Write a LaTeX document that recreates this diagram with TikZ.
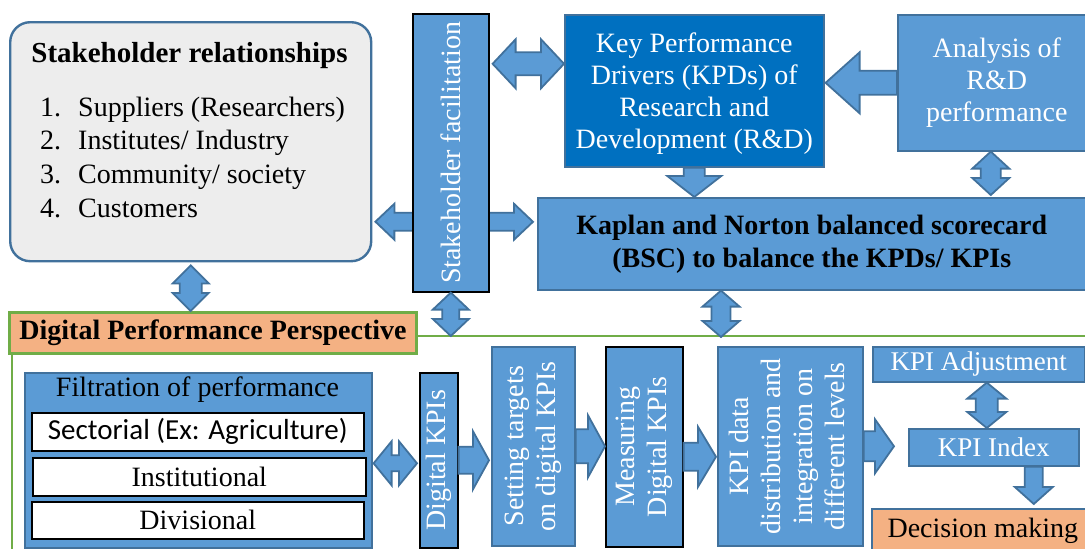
\documentclass[tikz,border=0pt]{standalone}
\usepackage{fontspec}
\setmainfont{Liberation Serif}
\newfontfamily\calibrifont{Carlito}
\usetikzlibrary{calc}
\definecolor{boxblue}{HTML}{5B9BD5}
\definecolor{boxline}{HTML}{41719C}
\definecolor{darkblue}{HTML}{0070C0}
\definecolor{lightgrey}{HTML}{EDEDED}
\definecolor{peach}{HTML}{F4B183}
\definecolor{leafgreen}{HTML}{70AD47}
\pgfdeclarelayer{back}
\pgfsetlayers{back,main}

% block arrows: #1 from, #2 to, #3 half shaft, #4 half head, #5 head length
\newcommand{\onearrow}[5]{%
  \coordinate (ta) at (#1);
  \coordinate (tb) at (#2);
  \coordinate (th) at ($(tb)!#5!(ta)$);
  \draw[arrowbody] ($(ta)!#3!90:(tb)$) -- ($(th)!#3!90:(tb)$) -- ($(th)!#4!90:(tb)$) -- (tb)
    -- ($(th)!#4!-90:(tb)$) -- ($(th)!#3!-90:(tb)$) -- ($(ta)!#3!-90:(tb)$) -- cycle;
}
\newcommand{\twoarrow}[5]{%
  \coordinate (ta) at (#1);
  \coordinate (tb) at (#2);
  \coordinate (tp) at ($(ta)!#5!(tb)$);
  \coordinate (tq) at ($(tb)!#5!(ta)$);
  \draw[arrowbody] (ta) -- ($(tp)!#4!90:(tb)$) -- ($(tp)!#3!90:(tb)$) -- ($(tq)!#3!90:(tb)$)
    -- ($(tq)!#4!90:(tb)$) -- (tb) -- ($(tq)!#4!-90:(tb)$) -- ($(tq)!#3!-90:(tb)$)
    -- ($(tp)!#3!-90:(tb)$) -- ($(tp)!#4!-90:(tb)$) -- cycle;
}

\begin{document}
\begin{tikzpicture}[x=1pt,y=-1pt,font=\fontsize{28}{32}\selectfont]
       \tikzstyle{box} = [rectangle, anchor=north west, inner sep=0pt, line width=1.6pt, align=center];
       \tikzstyle{bluebox} = [box, draw=boxline, fill=boxblue, text=white];
       \tikzstyle{darkbox} = [bluebox, draw=black];
       \tikzstyle{whitebox} = [box, draw=black, fill=white];
       \tikzstyle{arrowbody} = [draw=boxline, line width=1.8pt, fill=boxblue, line join=miter];
       \tikzstyle{frameline} = [draw=leafgreen, line width=2pt];
       \useasboundingbox (0,0) rectangle (1085,549);
       \clip (0,0) rectangle (1085,549);

       % top half
       \node[box, draw=boxline, line width=2.4pt, fill=lightgrey, rounded corners=20pt, minimum width=361pt, minimum height=239pt] (srel) at (9,21) {};
       \node[inner sep=0pt, font=\fontsize{29}{32}\selectfont\bfseries] (srel-title) at (189.5,56) {Stakeholder relationships};
       \node[inner sep=0pt, anchor=west] (srel-list) at (40,160) {\fontsize{28}{33.7}\selectfont
         \begin{tabular}{@{}l@{\hspace{17pt}}l@{}}
           1.&Suppliers (Researchers)\\
           2.&Institutes/ Industry\\
           3.&Community/ society\\
           4.&Customers
         \end{tabular}};
       \node[darkbox, minimum width=76pt, minimum height=278pt] (facil) at (412,13) {\rotatebox{90}{Stakeholder facilitation}};
       \node[bluebox, fill=darkblue, minimum width=259pt, minimum height=152pt] (kpd) at (564,14) {\rule{0pt}{26pt}Key Performance\\Drivers (KPDs) of\\Research and\\Development (R\&D)};
       \node[bluebox, minimum width=198pt, minimum height=136pt] (anal) at (897,14) {Analysis of\\R\&D\\performance};
       \node[bluebox, text=black, font=\fontsize{28}{33}\selectfont\bfseries, minimum width=548pt, minimum height=92pt] (bsc) at (537,197) {Kaplan and Norton balanced scorecard\\(BSC) to balance the KPDs/ KPIs};

       % digital performance frame
       \node[box, fill=peach, draw=leafgreen, line width=3pt, minimum width=407pt, minimum height=41pt, font=\fontsize{28}{32}\selectfont\bfseries] (dpp) at (8,311) {Digital Performance Perspective};
       \coordinate (frame-ne) at (1090,336);
       \coordinate (frame-sw) at (12,560);
       \draw[frameline] (dpp.east |- frame-ne) -- (frame-ne);
       \draw[frameline] (frame-sw |- dpp.south) -- (frame-sw);

       % bottom half
       \node[bluebox, minimum width=347pt, minimum height=175pt] (filt) at (24,372) {};
       \node[inner sep=0pt] (filt-title) at (197.5,390) {Filtration of performance};
       \node[whitebox, minimum width=332pt, minimum height=38pt, font=\calibrifont\fontsize{29}{32}\selectfont] (sect) at (31,412) {Sectorial (Ex: Agriculture)};
       \node[whitebox, minimum width=333pt, minimum height=38pt] (inst) at (32,457) {Institutional};
       \node[whitebox, minimum width=332pt, minimum height=37pt] (divi) at (31,501) {Divisional};
       \node[darkbox, minimum width=38pt, minimum height=175pt] (dkpi) at (419,372) {\rotatebox{90}{Digital KPIs}};
       \node[bluebox, minimum width=83pt, minimum height=199pt] (sett) at (491,346) {\rotatebox{90}{\begin{tabular}{@{}c@{}}Setting targets\\on digital KPIs\end{tabular}}};
       \node[darkbox, minimum width=77pt, minimum height=200pt] (meas) at (605,346) {\rotatebox{90}{\begin{tabular}{@{}c@{}}Measuring\\Digital KPIs\end{tabular}}};
       \node[bluebox, minimum width=145pt, minimum height=199pt] (kpid) at (717,346) {\rotatebox{90}{\begin{tabular}{@{}c@{}}KPI data\\distribution and\\integration on\\different levels\end{tabular}}};
       \node[bluebox, minimum width=212pt, minimum height=35pt, font=\fontsize{27}{32}\selectfont] (kadj) at (872,346) {KPI Adjustment};
       \node[bluebox, minimum width=170pt, minimum height=37pt, font=\fontsize{27}{32}\selectfont] (kidx) at (908,428) {KPI Index};
       \node[bluebox, fill=peach, text=black, minimum width=222pt, minimum height=44pt] (dec) at (871,508) {Decision making};

       % block arrows
       \begin{pgfonlayer}{back}
         \twoarrow{$(srel.east)+(3,80)$}{$(bsc.west)+(-4,-22)$}{9pt}{18pt}{19pt}
       \end{pgfonlayer}
       \twoarrow{$(facil.east |- kpd.west)+(3,-27)$}{$(kpd.west)+(0,-27)$}{11.5pt}{24.5pt}{23pt}
       \onearrow{anal.west}{$(kpd.east |- anal.west)+(1,0)$}{12pt}{30.5pt}{34pt}
       \onearrow{kpd.south}{kpd.south |- bsc.north}{10.5pt}{27pt}{21pt}
       \twoarrow{$(anal.south)+(-6,0)$}{$(anal.south |- bsc.north)+(-6,-2)$}{10pt}{18.5pt}{17pt}
       \twoarrow{$(srel.south)+(0,3)$}{srel.south |- dpp.north}{11pt}{18pt}{18pt}
       \twoarrow{facil.south}{facil.south |- frame-ne}{8.5pt}{18pt}{17pt}
       \twoarrow{$(bsc.south -| kpid.north west)+(4,0)$}{$(frame-ne -| kpid.north west)+(4,1)$}{9.5pt}{18.5pt}{16pt}
       \twoarrow{$(filt.east)+(1,3)$}{$(dkpi.west)+(-2,3)$}{8pt}{22pt}{18pt}
       \onearrow{dkpi.east}{$(dkpi.east -| sett.west)+(-2,0)$}{13.5pt}{29pt}{16pt}
       \onearrow{sett.east}{sett.east -| meas.west}{17pt}{31pt}{17pt}
       \onearrow{$(meas.east)+(0,10)$}{$(meas.east -| kpid.west)+(-1,10)$}{14pt}{30pt}{18pt}
       \onearrow{kpid.east}{$(kpid.east -| kidx.west)+(-14,0)$}{15pt}{27pt}{19pt}
       \twoarrow{$(kadj.south)+(8,0)$}{$(kadj.south |- kidx.north)+(8,0)$}{11pt}{19.5pt}{16pt}
       \onearrow{$(kidx.south)+(40,0)$}{$(kidx.south |- dec.north)+(40,-4)$}{9pt}{19pt}{17pt}
     \end{tikzpicture}
\end{document}
